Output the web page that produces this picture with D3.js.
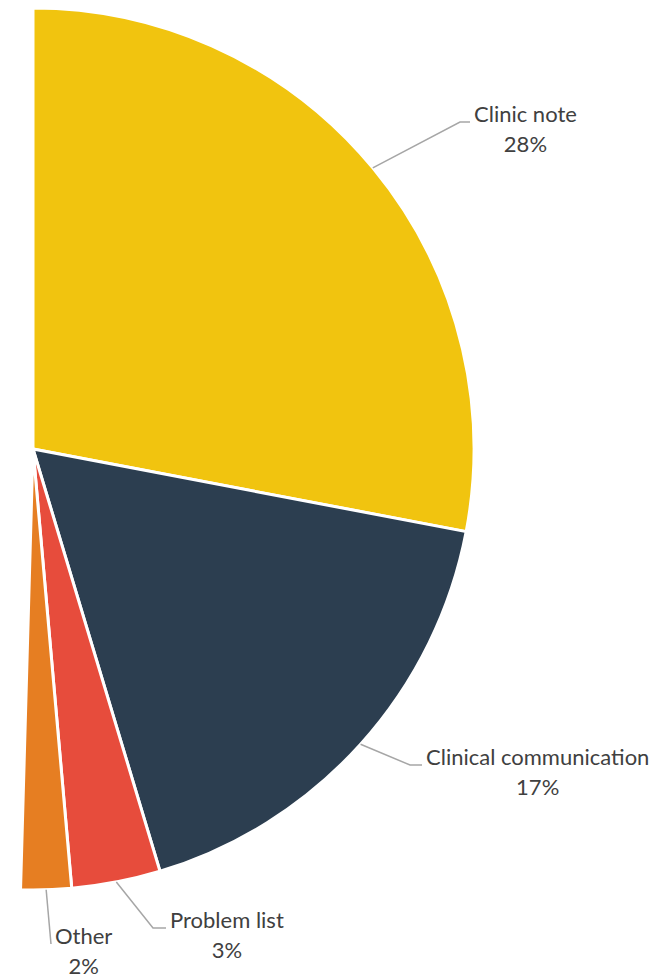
<!DOCTYPE html>
<html>
<head>
<meta charset="utf-8">
<script src="https://cdn.jsdelivr.net/npm/d3@7"></script>
<style>
  html, body { margin: 0; padding: 0; background: #fff; }
  svg { display: block; }
</style>
</head>
<body>
<div id="chart"></div>
<script>
// Data (values as share of the full pie, %)
const categories = ["Clinic note", "Clinical communication", "Problem list", "Other", "Hidden"];
const values = [28.0, 17.35, 3.25, 1.85, 49.55];
const colors = ["#F1C40F", "#2C3E50", "#E74C3C", "#E67E22", "none"];

// Label elbows relative to pie centre, plus horizontal leader length
const labelElbows = [[427, -327], [377, 316], [120, 479], [18, 495]];
const labelTails = [10, 12, 13, 0];

const width = 660;
const height = 975;
const cx = 33, cy = 449;
const radius = 441;

const svg = d3.select("#chart")
    .append("svg")
    .attr("width", width)
    .attr("height", height);

const g = svg.append("g")
    .attr("transform", `translate(${cx},${cy})`);

const data = categories.map((c, i) => ({ name: c, value: values[i], color: colors[i], idx: i }));

const pie = d3.pie()
    .sort(null)
    .value(d => d.value);

const arcs = pie(data);

const arc = d3.arc()
    .innerRadius(0)
    .outerRadius(radius);

g.selectAll("path.slice")
    .data(arcs.filter(d => d.data.color !== "none"))
    .enter()
    .append("path")
    .attr("class", "slice")
    .attr("d", arc)
    .attr("fill", d => d.data.color)
    .attr("stroke", "#fff")
    .attr("stroke-width", 3)
    .attr("stroke-linejoin", "miter");

// Leader lines and labels
const visible = arcs.filter(d => d.data.color !== "none");

visible.forEach(d => {
    const i = d.data.idx;
    const mid = (d.startAngle + d.endAngle) / 2;
    const sx = radius * Math.sin(mid);
    const sy = -radius * Math.cos(mid);
    const [ex, ey] = labelElbows[i];
    const tail = labelTails[i];

    g.append("polyline")
        .attr("points", `${sx},${sy} ${ex},${ey} ${ex + tail},${ey}`)
        .attr("fill", "none")
        .attr("stroke", "#A6A6A6")
        .attr("stroke-width", 1.5);

    const pct = Math.round(d.data.value) + "%";
    const t = g.append("text")
        .attr("font-family", "Lato, 'Open Sans', sans-serif")
        .attr("font-size", 22)
        .attr("fill", "#404040");

    const l1 = t.append("tspan")
        .attr("x", ex + tail + 4)
        .attr("y", ey)
        .text(d.data.name);
    const w = l1.node().getComputedTextLength();
    const center = ex + tail + 4 + w / 2;
    l1.attr("x", center).attr("text-anchor", "middle");
    t.append("tspan")
        .attr("x", center)
        .attr("y", ey + 30)
        .attr("text-anchor", "middle")
        .text(pct);
});
</script>
</body>
</html>
